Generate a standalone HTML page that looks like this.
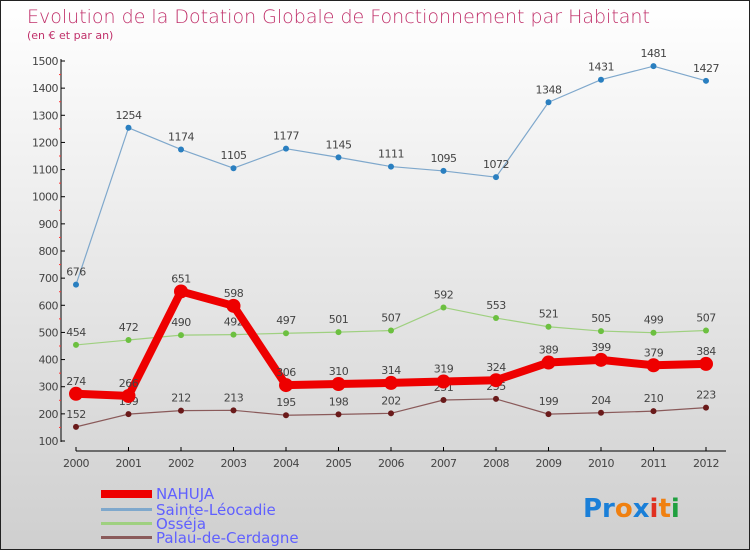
<!DOCTYPE html>
<html><head><meta charset="utf-8"><style>
body{margin:0}
#c{width:748px;height:548px;border:1px solid #222;background:linear-gradient(#fff,#cfcfcf);position:relative;font-family:"DejaVu Sans","Liberation Sans",sans-serif;overflow:hidden}
</style></head><body>
<div id="c">
<svg id="s" width="748" height="548">
<text x="26" y="22" font-size="19" fill="#c0306a" font-family="DejaVu Sans,sans-serif" font-weight="200">Evolution de la Dotation Globale de Fonctionnement par Habitant</text>
<text x="26" y="38" font-size="11" fill="#c0306a">(en € et par an)</text>
<g id="g"></g>
<g>
<rect x="100" y="489" width="51" height="8" fill="#e00"/>
<text x="155" y="498" font-size="15" fill="#6060ff">NAHUJA</text>
<rect x="100" y="507" width="51" height="3" fill="#7fa8cc"/>
<text x="155" y="514" font-size="15" fill="#6060ff">Sainte-Léocadie</text>
<rect x="100" y="521" width="51" height="3" fill="#9fd080"/>
<text x="155" y="528" font-size="15" fill="#6060ff">Osséja</text>
<rect x="100" y="535" width="51" height="3" fill="#8a5a5a"/>
<text x="155" y="542" font-size="15" fill="#6060ff">Palau-de-Cerdagne</text>
</g>
<text x="582" y="516" font-size="26" font-weight="bold"><tspan fill="#1a7fd8">Pr</tspan><tspan fill="#f08010">o</tspan><tspan fill="#1a7fd8">x</tspan><tspan fill="#e03020">i</tspan><tspan fill="#f08010">t</tspan><tspan fill="#20a040">i</tspan></text>
</svg></div>
<script>
const years=[2000,2001,2002,2003,2004,2005,2006,2007,2008,2009,2010,2011,2012];
const yTicks=[100,200,300,400,500,600,700,800,900,1000,1100,1200,1300,1400,1500];
const nahuja=[274,266,651,598,306,310,314,319,324,389,399,379,384];
const sainte=[676,1254,1174,1105,1177,1145,1111,1095,1072,1348,1431,1481,1427];
const osseja=[454,472,490,492,497,501,507,592,553,521,505,499,507];
const palau=[152,199,212,213,195,198,202,251,255,199,204,210,223];
const g=document.getElementById('g');const NS='http://www.w3.org/2000/svg';
const X=i=>75+i*52.5, Y=v=>440-(v-100)*380/1400;
function mk(t,a,p){const e=document.createElementNS(NS,t);for(const k in a)e.setAttribute(k,a[k]);(p||g).appendChild(e);return e;}
let e=mk('line',{x1:60,y1:58,x2:60,y2:441,stroke:'#000'});


e=mk('line',{x1:75,y1:450,x2:725,y2:450,stroke:'#000'});


yTicks.forEach(v=>{mk('line',{x1:60,y1:Y(v),x2:64,y2:Y(v),stroke:'#000'});
if(v<1500)mk('line',{x1:58,y1:Y(v+50),x2:60,y2:Y(v+50),stroke:'#f33'});
const t=mk('text',{x:57,y:Y(v)+4,'font-size':11,fill:'#444','text-anchor':'end','letter-spacing':'-0.5'});t.textContent=v;

});
years.forEach((y,i)=>{mk('line',{x1:X(i),y1:446,x2:X(i),y2:450,stroke:'#000'});
const t=mk('text',{x:X(i),y:466,'font-size':11,fill:'#444','text-anchor':'middle','letter-spacing':'-0.5'});t.textContent=y;

});
function series(d,name,col,dot,w,r){
const l=mk('polyline',{points:d.map((v,i)=>X(i)+','+Y(v)).join(' '),fill:'none',stroke:col,'stroke-width':w,'stroke-linejoin':'round'});


d.forEach((v,i)=>{const c=mk('circle',{cx:X(i),cy:Y(v),r:r,fill:dot});


const t=mk('text',{x:X(i),y:Y(v)-9,'font-size':11,fill:'#444','text-anchor':'middle','letter-spacing':'-0.5'});t.textContent=v;

});}
series(sainte,'sainte-leocadie','#7fa8cc','#2a7fc0',1.2,3);
series(osseja,'osseja','#9fd080','#6cc040',1.2,3);
series(palau,'palau','#8a5a5a','#6a1a1a',1.2,3);
series(nahuja,'nahuja','#e00','#e00',8,7);
</script></body></html>
